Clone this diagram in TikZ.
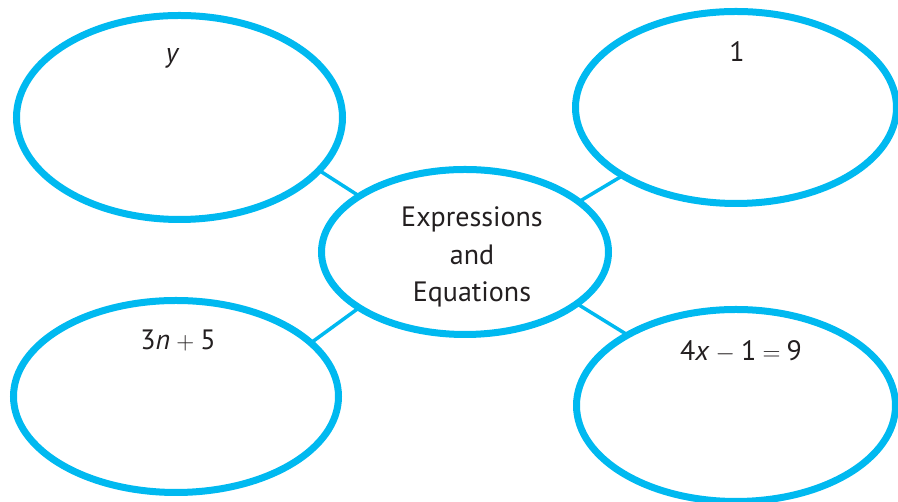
\documentclass[tikz,border=0pt]{standalone}
\usepackage{fontspec}
\setmainfont{PT Sans}
\usetikzlibrary{shapes.geometric,backgrounds}
\definecolor{bubble}{RGB}{0,185,240}
\definecolor{ink}{RGB}{35,31,32}
\tikzset{
  bub/.style={draw=bubble, line width=7pt, ellipse, inner sep=0pt},
  link/.style={draw=bubble, line width=3.5pt, shorten <=-4pt, shorten >=-4pt},
  lbl/.style={text=ink, font=\fontsize{28}{37.5}\selectfont, inner sep=0pt},
}
\newcommand{\opsp}{\hspace{0.22em}}
\begin{document}
\begin{tikzpicture}[x=1pt,y=1pt]
\useasboundingbox (0,0) rectangle (898,502);
\node[bub, minimum width=326pt, minimum height=204pt] (tl) at (179.5,384.5) {};
\node[bub, minimum width=321pt, minimum height=192pt] (tr) at (736,394.5) {};
\node[bub, minimum width=287pt, minimum height=165pt] (c) at (465,250) {};
\node[bub, minimum width=325pt, minimum height=192pt] (bl) at (176,105.5) {};
\node[bub, minimum width=319pt, minimum height=192pt] (br) at (736,96.5) {};
\begin{scope}[on background layer]
\draw[link] (c.152.8) -- (tl.-21.6);
\draw[link] (c.24.9) -- (tr.-149.7);
\draw[link] (c.208.6) -- (bl.22.9);
\draw[link] (c.-25.8) -- (br.147.4);
\end{scope}
\node[lbl, anchor=base] (ty) at (172,439) {\itshape y};
\node[lbl, anchor=base] (t1) at (737,440) {1};
\node[lbl, anchor=base] (t3) at (178,152) {3\textit{n}\opsp$+$\opsp5};
\node[lbl, anchor=base] (t4) at (741,141) {4\textit{x}\opsp$-$\opsp1\opsp$=$\opsp9};
\node[lbl, align=center, anchor=base] (tc) at (472,200) {Expressions\\and\\Equations};
\end{tikzpicture}
\end{document}
